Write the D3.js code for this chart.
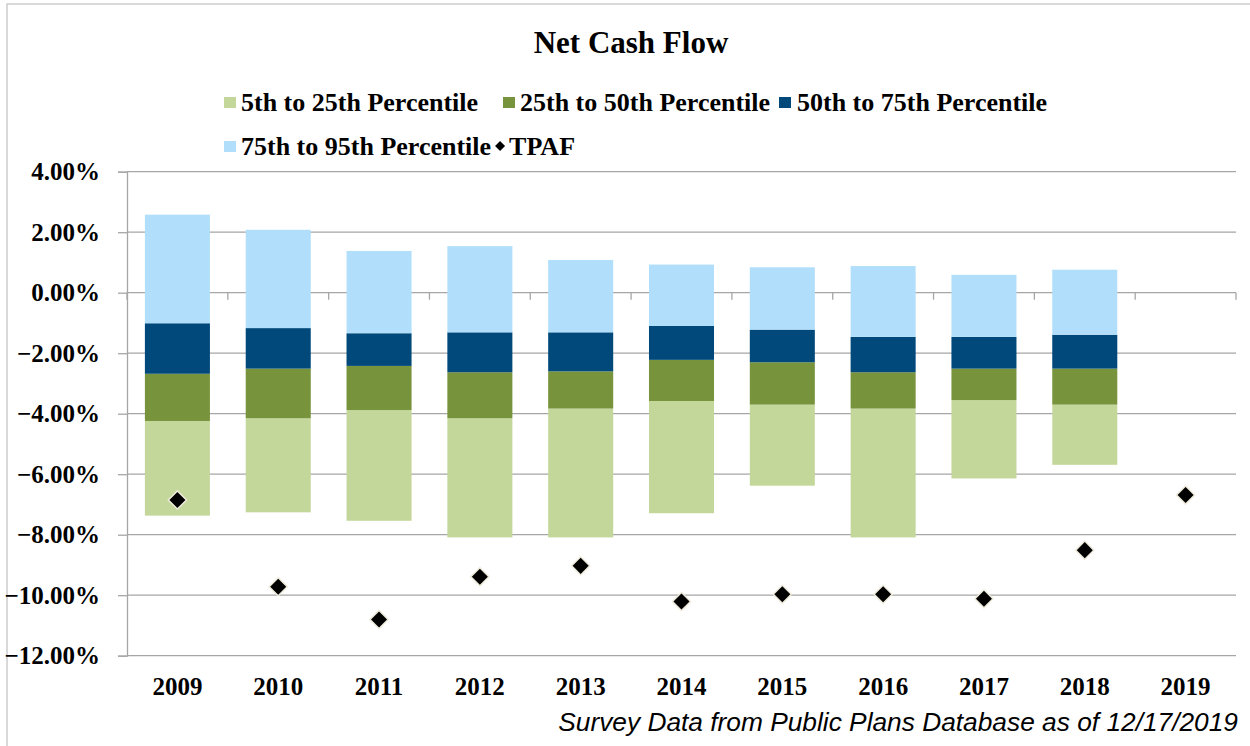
<!DOCTYPE html>
<head>
  <meta charset="utf-8">
  <script src="https://d3js.org/d3.v7.min.js"></script>
  <style>
    body { margin:0; background:#fff; }
    text { font-family: "Liberation Serif", "Times New Roman", serif; font-weight: bold; fill:#000; }
  </style>
</head>
<body>
<script>
// data, in percent
var years = ["2009","2010","2011","2012","2013","2014","2015","2016","2017","2018","2019"];
var p5  = [-7.37, -7.26, -7.54, -8.09, -8.09, -7.29, -6.38, -8.09, -6.14, -5.69, null];
var p25 = [-4.24, -4.15, -3.88, -4.15, -3.83, -3.58, -3.70, -3.83, -3.55, -3.70, null];
var p50 = [-2.68, -2.51, -2.42, -2.63, -2.60, -2.22, -2.30, -2.63, -2.51, -2.51, null];
var p75 = [-1.01, -1.17, -1.34, -1.31, -1.31, -1.10, -1.22, -1.46, -1.46, -1.39, null];
var p95 = [2.58, 2.08, 1.38, 1.54, 1.08, 0.93, 0.84, 0.88, 0.59, 0.76, null];
var tpaf = [-6.85, -9.72, -10.80, -9.39, -9.03, -10.21, -9.97, -9.97, -10.12, -8.51, -6.69];
var yTicks = [-12, -10, -8, -6, -4, -2, 0, 2, 4];

var seriesNames = ["5th to 25th Percentile", "25th to 50th Percentile", "50th to 75th Percentile", "75th to 95th Percentile"];
var colors = ["#C4D79B", "#77933C", "#00497A", "#B1DFFB"];

var width = 1250, height = 746;

var svg = d3.select("body").append("svg")
  .attr("width", width)
  .attr("height", height);

// chart border (only left/top visible)
svg.append("rect")
  .attr("x", 7).attr("y", 4)
  .attr("width", 1300).attr("height", 800)
  .attr("fill", "none")
  .attr("stroke", "#C0C0C0")
  .attr("stroke-width", 1.2);

var x = d3.scaleBand()
  .domain(years)
  .range([127, 1236])
  .paddingInner(0.355)
  .paddingOuter(0.1775);

var y = d3.scaleLinear()
  .domain([-12, 4])
  .range([655.7, 171.7]);

// gridlines
svg.append("g").attr("class", "grid")
  .selectAll("line")
  .data(yTicks)
  .enter().append("line")
  .attr("x1", 127).attr("x2", 1236)
  .attr("y1", function(d){ return y(d); })
  .attr("y2", function(d){ return y(d); })
  .attr("stroke", "#A6A6A6")
  .attr("stroke-width", 1.3);

// stacked ranges
var bands = [];
years.forEach(function(yr, i){
  if (p5[i] === null) return;
  var edges = [p5[i], p25[i], p50[i], p75[i], p95[i]];
  for (var k = 0; k < 4; k++) {
    bands.push({ year: yr, k: k, lo: edges[k], hi: edges[k+1] });
  }
});

svg.append("g").attr("class", "bars")
  .selectAll("rect")
  .data(bands)
  .enter().append("rect")
  .attr("x", function(d){ return x(d.year); })
  .attr("width", x.bandwidth())
  .attr("y", function(d){ return y(d.hi); })
  .attr("height", function(d){ return y(d.lo) - y(d.hi); })
  .attr("fill", function(d){ return colors[d.k]; });

// y axis
var yAxis = d3.axisLeft(y)
  .tickValues(yTicks)
  .tickSize(9)
  .tickPadding(18)
  .tickFormat(function(d){ return d3.format(".2f")(d) + "%"; });

var yg = svg.append("g")
  .attr("transform", "translate(127,0)")
  .attr("font-family", null)
  .call(yAxis);
yg.select(".domain").attr("stroke", "#A6A6A6").attr("stroke-width", 1.3);
yg.selectAll(".tick line").attr("stroke", "#A6A6A6").attr("stroke-width", 1.3);
yg.selectAll("text")
  .style("font-family", "'Liberation Serif', 'Times New Roman', serif")
  .style("font-weight", "bold")
  .style("font-size", "25px")
  .attr("fill", "#000");

// category tick marks on the zero line
var bounds = d3.range(years.length + 1).map(function(i){ return x.range()[0] + i * x.step(); });
svg.append("g").selectAll("line")
  .data(bounds)
  .enter().append("line")
  .attr("x1", function(d){ return d; })
  .attr("x2", function(d){ return d; })
  .attr("y1", y(0))
  .attr("y2", y(0) + 7)
  .attr("stroke", "#A6A6A6")
  .attr("stroke-width", 1.3);

// x labels
var xAxis = d3.axisBottom(x).tickSize(0).tickPadding(21.5);
var xg = svg.append("g")
  .attr("transform", "translate(0," + y(-12) + ")")
  .call(xAxis);
xg.select(".domain").remove();
xg.selectAll("text")
  .style("font-family", "'Liberation Serif', 'Times New Roman', serif")
  .style("font-weight", "bold")
  .style("font-size", "25px")
  .attr("fill", "#000");

// TPAF markers
var diamond = d3.symbol().type(d3.symbolSquare).size(165);
svg.append("g").attr("class", "tpaf")
  .selectAll("path")
  .data(tpaf)
  .enter().append("path")
  .attr("d", diamond)
  .attr("transform", function(d, i){
    return "translate(" + (x(years[i]) + x.bandwidth()/2) + "," + y(d) + ") rotate(45)";
  })
  .attr("fill", "#000")
  .attr("stroke", "#EFEBDC")
  .attr("stroke-width", 1.5);

// title
svg.append("text")
  .attr("x", 631).attr("y", 53)
  .attr("text-anchor", "middle")
  .style("font-size", "31px")
  .text("Net Cash Flow");

// legend
var legendPos = [
  { sx: 224, tx: 241, ty: 111 },
  { sx: 503, tx: 520, ty: 111 },
  { sx: 779, tx: 797, ty: 111 },
  { sx: 224, tx: 241, ty: 155 }
];
var lg = svg.append("g").attr("class", "legend");
var lastEnd = 0;
seriesNames.forEach(function(name, k){
  var p = legendPos[k];
  lg.append("rect")
    .attr("x", p.sx).attr("y", p.ty - 14)
    .attr("width", 12).attr("height", 11)
    .attr("fill", colors[k]);
  var t = lg.append("text")
    .attr("x", p.tx).attr("y", p.ty)
    .style("font-size", "26px")
    .text(name);
  lastEnd = p.tx + t.node().getComputedTextLength();
});
lg.append("path")
  .attr("d", d3.symbol().type(d3.symbolSquare).size(50))
  .attr("transform", "translate(" + (lastEnd + 9) + ",146) rotate(45)")
  .attr("fill", "#000");
lg.append("text")
  .attr("x", lastEnd + 18).attr("y", 155)
  .style("font-size", "26px")
  .text("TPAF");

// footnote
svg.append("text")
  .attr("x", 1238).attr("y", 731)
  .attr("text-anchor", "end")
  .style("font-family", "'Liberation Sans', Arial, sans-serif")
  .style("font-style", "italic")
  .style("font-weight", "normal")
  .style("font-size", "26.3px")
  .text("Survey Data from Public Plans Database as of 12/17/2019");
</script>
</body>
